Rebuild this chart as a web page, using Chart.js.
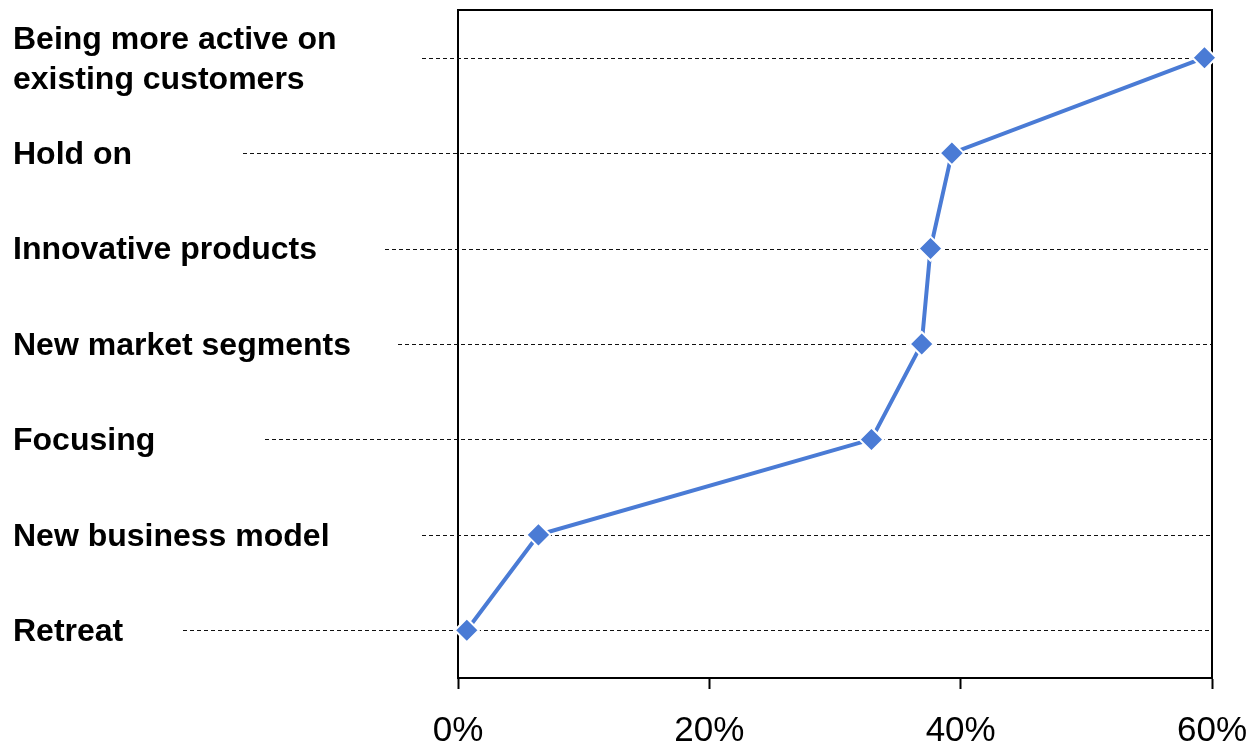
<!DOCTYPE html>
<html>
<head>
<meta charset="utf-8">
<script src="https://cdn.jsdelivr.net/npm/chart.js@4/dist/chart.umd.min.js"></script>
<style>
  html, body { margin: 0; padding: 0; background: #fff; }
  #wrap { width: 1251px; height: 747px; }
</style>
</head>
<body>
<div id="wrap"><canvas id="c" width="1251" height="747"></canvas></div>
<script>
// ---- data ----
const categories = [
  ["Being more active on", "existing customers"],
  "Hold on",
  "Innovative products",
  "New market segments",
  "Focusing",
  "New business model",
  "Retreat"
];
const shares = [59.4, 39.3, 37.6, 36.9, 32.9, 6.4, 0.7];
const xTicks = [0, 20, 40, 60];

// ---- styling (left starting point, in pixels, of each dashed guide line) ----
const guideStarts = [422, 243, 385, 398, 265, 422, 183];

const framePlugin = {
  id: 'frameAndGuides',
  beforeDatasetsDraw(chart) {
    const { ctx, chartArea } = chart;
    const y = chart.scales.y;
    ctx.save();
    ctx.strokeStyle = '#111';
    ctx.lineWidth = 1;
    ctx.setLineDash([4, 3]);
    categories.forEach((_, i) => {
      const py = Math.round(y.getPixelForTick(i)) + 0.5;
      ctx.beginPath();
      ctx.moveTo(guideStarts[i], py);
      ctx.lineTo(chartArea.right, py);
      ctx.stroke();
    });
    ctx.setLineDash([]);
    ctx.strokeStyle = '#000';
    ctx.lineWidth = 2;
    ctx.beginPath();
    ctx.moveTo(chartArea.left, chartArea.top);
    ctx.lineTo(chartArea.right, chartArea.top);
    ctx.lineTo(chartArea.right, chartArea.bottom);
    ctx.stroke();
    ctx.restore();
  }
};

new Chart(document.getElementById('c'), {
  type: 'line',
  data: {
    labels: categories,
    datasets: [{
      data: shares,
      borderColor: '#4a7bd5',
      backgroundColor: '#4a7bd5',
      borderWidth: 4,
      pointStyle: 'rectRot',
      pointRadius: 12,
      pointBorderColor: '#ffffff',
      pointBorderWidth: 2,
      pointBackgroundColor: '#4a7bd5',
      tension: 0,
      clip: false
    }]
  },
  options: {
    indexAxis: 'y',
    responsive: false,
    animation: false,
    events: [],
    layout: { autoPadding: false, padding: { left: 13, right: 39, top: 10, bottom: 0 } },
    plugins: { legend: { display: false }, tooltip: { enabled: false } },
    scales: {
      x: {
        type: 'linear',
        position: 'bottom',
        min: 0,
        max: 60,
        afterBuildTicks(scale) { scale.ticks = xTicks.map(v => ({ value: v })); },
        afterFit(scale) {
          scale.height = 69;
          scale.paddingLeft = 0; scale.paddingRight = 0;
        },
        grid: { drawOnChartArea: false, drawTicks: true, tickLength: 11, tickColor: '#000', tickWidth: 2 },
        border: { display: true, color: '#000', width: 2 },
        ticks: {
          padding: 21,
          color: '#000',
          font: { family: '"Liberation Sans", Arial, sans-serif', size: 35 },
          callback: v => v + '%',
          maxRotation: 0
        }
      },
      y: {
        type: 'category',
        position: 'left',
        offset: true,
        afterFit(scale) {
          scale.width = 445;
          scale.paddingTop = 0; scale.paddingBottom = 0;
        },
        grid: { display: false },
        border: { display: true, color: '#000', width: 2 },
        ticks: {
          crossAlign: 'far',
          labelOffset: 2,
          color: '#000',
          font: { family: '"Liberation Sans", Arial, sans-serif', size: 32, weight: 'bold', lineHeight: 1.25 },
          autoSkip: false
        }
      }
    }
  },
  plugins: [framePlugin]
});
</script>
</body>
</html>
